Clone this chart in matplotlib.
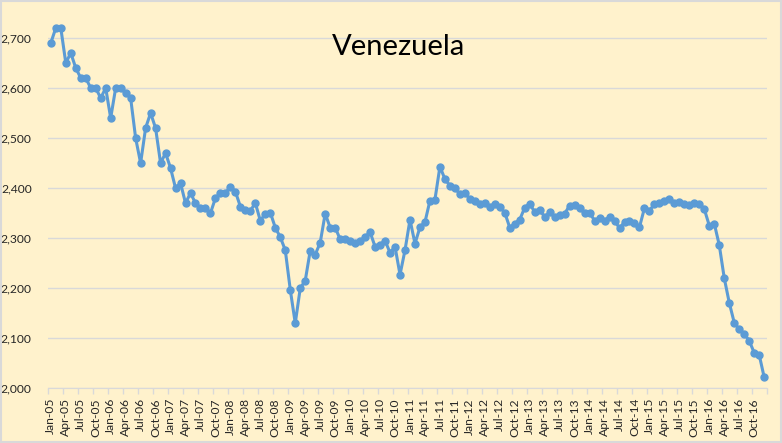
import numpy as np
import matplotlib.pyplot as plt
from matplotlib.patches import Rectangle

# monthly values, Jan-05 .. Dec-16 (kb/d)
years = list(range(2005, 2017))
months = ['Jan', 'Feb', 'Mar', 'Apr', 'May', 'Jun', 'Jul', 'Aug', 'Sep', 'Oct', 'Nov', 'Dec']
dates = ['{}-{:02d}'.format(m, y % 100) for y in years for m in months]

production = [
    2690, 2720, 2720, 2650, 2670, 2640, 2620, 2620, 2600, 2600, 2580, 2600,  # 2005
    2540, 2600, 2600, 2590, 2580, 2500, 2450, 2520, 2550, 2520, 2450, 2470,  # 2006
    2440, 2400, 2410, 2370, 2390, 2370, 2360, 2360, 2350, 2380, 2390, 2390,  # 2007
    2403, 2393, 2363, 2357, 2355, 2370, 2335, 2349, 2351, 2321, 2302, 2276,  # 2008
    2197, 2130, 2200, 2215, 2275, 2267, 2291, 2349, 2321, 2321, 2298, 2298,  # 2009
    2295, 2290, 2295, 2302, 2312, 2283, 2287, 2295, 2271, 2283, 2227, 2276,  # 2010
    2337, 2289, 2322, 2332, 2375, 2377, 2443, 2418, 2405, 2400, 2388, 2391,  # 2011
    2378, 2375, 2368, 2371, 2363, 2369, 2363, 2351, 2321, 2329, 2337, 2361,  # 2012
    2369, 2352, 2357, 2342, 2352, 2342, 2347, 2349, 2365, 2367, 2360, 2350,  # 2013
    2351, 2335, 2340, 2335, 2343, 2335, 2320, 2332, 2335, 2331, 2322, 2360,  # 2014
    2355, 2368, 2371, 2375, 2378, 2370, 2373, 2368, 2366, 2371, 2369, 2358,  # 2015
    2325, 2329, 2286, 2220, 2171, 2131, 2118, 2109, 2095, 2071, 2067, 2022,  # 2016
]

y_ticks = [2000, 2100, 2200, 2300, 2400, 2500, 2600, 2700]

BG = '#FFF2CC'
GRID = '#D9D9D9'
BLUE = '#5B9BD5'

plt.rcParams['font.family'] = ['Lato', 'DejaVu Sans']

fig = plt.figure(figsize=(7.82, 4.43), dpi=100, facecolor=BG)
ax = fig.add_axes([0.0618, 0.1235, 0.9186, 0.836])
ax.set_facecolor(BG)

x = np.arange(len(production))
ax.plot(x, production, color=BLUE, lw=2.2, marker='o', ms=5, clip_on=False, zorder=3)

ax.set_xlim(-0.5, len(production) - 0.5)
ax.set_ylim(2000, 2740)

ax.set_yticks(y_ticks)
ax.set_yticklabels(['{:,}'.format(v) for v in y_ticks], fontsize=8.7, color='#262626')
ax.yaxis.grid(True, color=GRID, lw=1)
ax.tick_params(axis='y', length=0, pad=12)

# labels at every third category, tick marks on the boundaries
ax.set_xticks(x[::3])
ax.set_xticklabels(dates[::3], rotation=90, fontsize=8.7, color='#262626')
ax.tick_params(axis='x', which='major', length=0, pad=7)
ax.set_xticks(np.arange(-0.5, len(production), 3), minor=True)
ax.tick_params(axis='x', which='minor', length=4, color=GRID, width=1)

for side in ['left', 'right', 'top']:
    ax.spines[side].set_visible(False)
ax.spines['bottom'].set_color(GRID)
ax.set_axisbelow(True)

fig.text(0.51, 0.894, 'Venezuela', ha='center', va='center', fontsize=21, color='black')

fig.patches.append(Rectangle((0.001, 0.002), 0.998, 0.996, transform=fig.transFigure,
                             fill=False, edgecolor=GRID, lw=1.5))

fig.savefig('out.png', dpi=100, facecolor=BG)
